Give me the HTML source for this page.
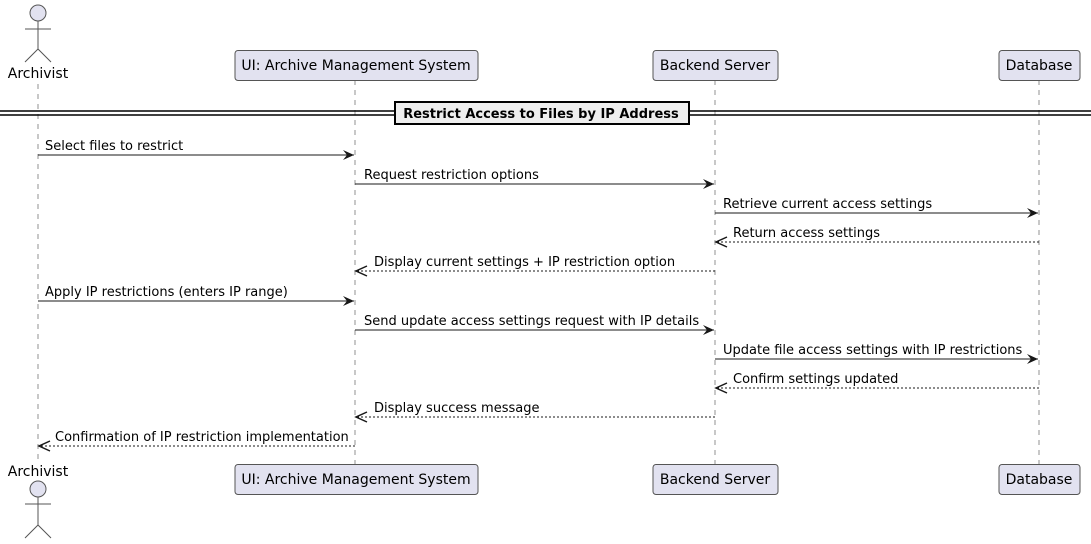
<!DOCTYPE html>
<html><head><meta charset="utf-8"><style>
html,body{margin:0;padding:0;background:#fff;width:1091px;height:544px;overflow:hidden}
text{font-family:"DejaVu Sans","Liberation Sans",sans-serif;font-size:13px;fill:#000}
</style></head><body>
<svg width="1091" height="544" viewBox="0 0 1091 544" xmlns="http://www.w3.org/2000/svg">
<defs>
<marker id="a" markerWidth="12" markerHeight="10" refX="11" refY="5" orient="auto" markerUnits="userSpaceOnUse">
<path d="M0,0 L11,5 L0,10 L4,5 Z" fill="#181818"/></marker>
<marker id="o" markerWidth="14" markerHeight="12" refX="12" refY="6" orient="auto" markerUnits="userSpaceOnUse">
<path d="M1,1 L12,6 L1,11" fill="none" stroke="#181818" stroke-width="1.5" stroke-dasharray="none"/></marker>
</defs>
<g stroke="#777" stroke-width="0.8" stroke-dasharray="5,5">
<line x1="38" y1="84" x2="38" y2="464"/>
<line x1="355" y1="80" x2="355" y2="464"/>
<line x1="715" y1="80" x2="715" y2="464"/>
<line x1="1039" y1="80" x2="1039" y2="464"/>
</g>
<g fill="#E2E2F0" stroke="#555" stroke-width="1">
<circle cx="38" cy="13" r="8"/>
<path d="M38,21 V49 M25,29 H51 M38,49 L25,62 M38,49 L51,62" fill="none"/>
<circle cx="38" cy="489" r="8"/>
<path d="M38,497 V525 M25,504 H51 M38,525 L25,538 M38,525 L51,538" fill="none"/>
</g>
<text x="38" y="78" text-anchor="middle" style="font-size:14px">Archivist</text>
<text x="38" y="476" text-anchor="middle" style="font-size:14px">Archivist</text>
<g fill="#E2E2F0" stroke="#555" stroke-width="1">
<rect x="235" y="50.5" width="243" height="30" rx="3"/>
<rect x="653" y="50.5" width="125" height="30" rx="3"/>
<rect x="999" y="50.5" width="81" height="30" rx="3"/>
<rect x="235" y="464.5" width="243" height="30" rx="3"/>
<rect x="653" y="464.5" width="125" height="30" rx="3"/>
<rect x="999" y="464.5" width="81" height="30" rx="3"/>
</g>
<text x="356" y="70" text-anchor="middle" style="font-size:14px">UI: Archive Management System</text>
<text x="715" y="70" text-anchor="middle" style="font-size:14px">Backend Server</text>
<text x="1039" y="70" text-anchor="middle" style="font-size:14px">Database</text>
<text x="356" y="484" text-anchor="middle" style="font-size:14px">UI: Archive Management System</text>
<text x="715" y="484" text-anchor="middle" style="font-size:14px">Backend Server</text>
<text x="1039" y="484" text-anchor="middle" style="font-size:14px">Database</text>
<g stroke="#000" stroke-width="1.5">
<line x1="0" y1="111" x2="1091" y2="111"/>
<line x1="0" y1="115" x2="1091" y2="115"/>
</g>
<rect x="395" y="102" width="294" height="22" fill="#EEEEEE" stroke="#000" stroke-width="2"/>
<text x="541" y="118" text-anchor="middle" style="font-weight:bold">Restrict Access to Files by IP Address</text>
<g stroke="#181818" stroke-width="1" fill="none">
<line x1="38" y1="155" x2="354" y2="155" marker-end="url(#a)"/>
<line x1="355" y1="184" x2="714" y2="184" marker-end="url(#a)"/>
<line x1="715" y1="213" x2="1038" y2="213" marker-end="url(#a)"/>
<line x1="1039" y1="242" x2="716" y2="242" stroke-dasharray="2,2" marker-end="url(#o)"/>
<line x1="715" y1="271" x2="356" y2="271" stroke-dasharray="2,2" marker-end="url(#o)"/>
<line x1="38" y1="301" x2="354" y2="301" marker-end="url(#a)"/>
<line x1="355" y1="330" x2="714" y2="330" marker-end="url(#a)"/>
<line x1="715" y1="359" x2="1038" y2="359" marker-end="url(#a)"/>
<line x1="1039" y1="388" x2="716" y2="388" stroke-dasharray="2,2" marker-end="url(#o)"/>
<line x1="715" y1="417" x2="356" y2="417" stroke-dasharray="2,2" marker-end="url(#o)"/>
<line x1="355" y1="446" x2="39" y2="446" stroke-dasharray="2,2" marker-end="url(#o)"/>
</g>
<text x="45" y="150">Select files to restrict</text>
<text x="364" y="179">Request restriction options</text>
<text x="723" y="208">Retrieve current access settings</text>
<text x="733" y="237">Return access settings</text>
<text x="374" y="266">Display current settings + IP restriction option</text>
<text x="45" y="296">Apply IP restrictions (enters IP range)</text>
<text x="364" y="325">Send update access settings request with IP details</text>
<text x="723" y="354">Update file access settings with IP restrictions</text>
<text x="733" y="383">Confirm settings updated</text>
<text x="374" y="412">Display success message</text>
<text x="55" y="441">Confirmation of IP restriction implementation</text>
</svg>
</body></html>
